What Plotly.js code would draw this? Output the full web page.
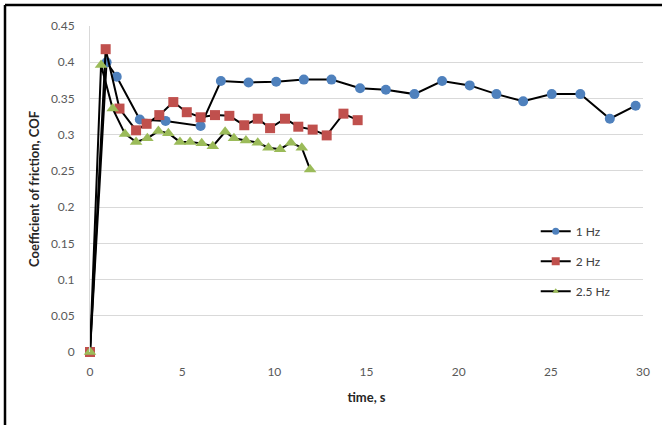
<!DOCTYPE html>
<html>
<head>
<meta charset="utf-8">
<script src="https://cdn.plot.ly/plotly-3.0.1.min.js"></script>
<style>html,body{margin:0;padding:0;background:#fff;}#chart{width:662px;height:425px;}</style>
</head>
<body>
<div id="chart"></div>
<script>
// 1 Hz
const t1 = [0, 0.9, 1.45, 2.7, 4.1, 6.0, 7.1, 8.6, 10.1, 11.6, 13.1, 14.65, 16.05, 17.6, 19.1, 20.6, 22.05, 23.5, 25.05, 26.6, 28.2, 29.6];
const cof1 = [0, 0.400, 0.380, 0.321, 0.319, 0.312, 0.374, 0.372, 0.373, 0.376, 0.376, 0.364, 0.362, 0.356, 0.374, 0.368, 0.356, 0.346, 0.356, 0.356, 0.322, 0.340];
// 2 Hz
const t2 = [0, 0.85, 1.6, 2.5, 3.07, 3.76, 4.52, 5.25, 6.0, 6.78, 7.56, 8.37, 9.1, 9.77, 10.58, 11.3, 12.08, 12.84, 13.75, 14.52];
const cof2 = [0, 0.418, 0.336, 0.306, 0.315, 0.327, 0.345, 0.331, 0.324, 0.327, 0.326, 0.313, 0.322, 0.309, 0.322, 0.311, 0.307, 0.299, 0.329, 0.320];
// 2.5 Hz
const t3 = [0, 0.6, 1.23, 1.9, 2.5, 3.11, 3.71, 4.25, 4.88, 5.43, 6.06, 6.66, 7.33, 7.81, 8.46, 9.1, 9.68, 10.31, 10.9, 11.49, 11.94];
const cof3 = [0, 0.396, 0.336, 0.301, 0.290, 0.295, 0.305, 0.302, 0.290, 0.290, 0.288, 0.284, 0.304, 0.295, 0.292, 0.289, 0.282, 0.280, 0.289, 0.282, 0.252];
const names = ['1 Hz', '2 Hz', '2.5 Hz'];
const xTicks = [0, 5, 10, 15, 20, 25, 30];
const yTicks = [0, 0.05, 0.1, 0.15, 0.2, 0.25, 0.3, 0.35, 0.4, 0.45];

const FONT = 'Lato, "Liberation Sans", sans-serif';
const colors = ['#4F81BD', '#C0504D', '#9BBB59'];
const symbols = ['circle', 'square', 'triangle-up'];
const mk = (x, y, i, size) => ({
  x: x, y: y, name: names[i], type: 'scatter', mode: 'lines+markers',
  showlegend: false, cliponaxis: false,
  line: {color: '#000000', width: 2},
  marker: {color: colors[i], symbol: symbols[i], size: size, line: {width: 0}}
});
// legend entries (no data points; smaller legend markers like the original)
const lg = (i, size) => ({
  x: [null], y: [null], name: names[i], type: 'scatter', mode: 'lines+markers',
  legendgroup: 'g' + i, showlegend: true,
  line: {color: '#000000', width: 2},
  marker: {color: colors[i], symbol: symbols[i], size: size, line: {width: 0}}
});
const data = [
  mk(t1, cof1, 0, 10),
  mk(t2, cof2, 1, 10),
  mk(t3, cof3, 2, 11),
  lg(0, 7), lg(1, 8), lg(2, 6)
];
const layout = {
  width: 662, height: 425,
  margin: {l: 90, r: 19, t: 26, b: 73},
  paper_bgcolor: '#ffffff', plot_bgcolor: '#ffffff',
  font: {family: FONT, color: '#595959', size: 12},
  showlegend: true,
  legend: {x: 0.806, y: 0.415, xanchor: 'left', yanchor: 'top',
    font: {family: FONT, size: 12, color: '#404040'},
    tracegroupgap: 11, bgcolor: 'rgba(0,0,0,0)'},
  xaxis: {range: [0, 30], tickvals: xTicks, ticktext: xTicks.map(String),
    showgrid: false, zeroline: false, showline: false, ticks: '',
    ticklabelstandoff: 11,
    tickfont: {family: FONT, size: 12, color: '#595959'},
    title: {text: 'time, s', standoff: 14, font: {family: FONT, size: 13, color: '#262626', weight: 'bold'}}},
  yaxis: {range: [0, 0.45], tickvals: yTicks, ticktext: yTicks.map(String),
    showgrid: true, gridcolor: '#D9D9D9', gridwidth: 1,
    zeroline: false, showline: true, linecolor: '#D9D9D9', linewidth: 1, ticks: '',
    ticklabelstandoff: 12,
    tickfont: {family: FONT, size: 12, color: '#595959'},
    title: {text: 'Coefficient of friction, COF', standoff: 8, font: {family: FONT, size: 13, color: '#262626', weight: 'bold'}}},
  shapes: [
    {type: 'line', xref: 'paper', yref: 'paper', x0: -0.1537, x1: 1.1, y0: 1.0644, y1: 1.0644, line: {color: '#000', width: 2.5}},
    {type: 'line', xref: 'paper', yref: 'paper', x0: -0.1537, x1: -0.1537, y0: 1.0644, y1: -0.25, line: {color: '#000', width: 2.5}}
  ]
};
Plotly.newPlot('chart', data, layout, {displayModeBar: false, staticPlot: true});
</script>
</body>
</html>
